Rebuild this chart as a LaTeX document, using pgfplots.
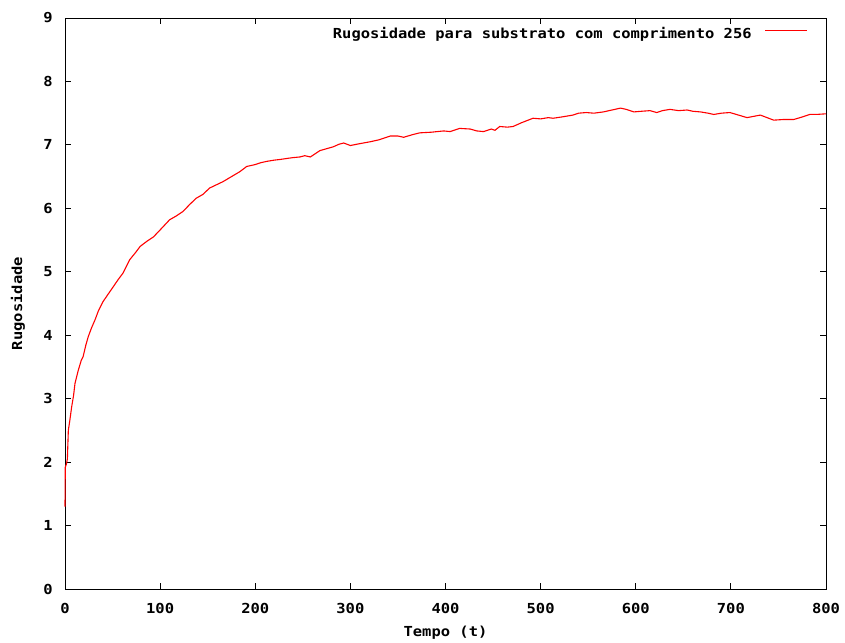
\documentclass[border=0pt]{standalone}
\usepackage{fontspec}
\setmainfont{DejaVu Sans Mono}[FakeStretch=1.12]
\usepackage{pgfplots}
\pgfplotsset{compat=1.18}

\newcommand{\gpfont}{\fontsize{13.8}{16}\selectfont\bfseries}

\begin{document}
\begin{tikzpicture}
\path (0pt,0pt) rectangle (845pt,640pt);
\begin{axis}[
  at={(65pt,51pt)}, anchor=south west,
  width=761pt, height=571pt, scale only axis,
  set layers, clip=false,
  xmin=0, xmax=800, ymin=0, ymax=9,
  xtick={0,100,...,800}, ytick={0,1,...,9},
  tick align=inside, major tick length=6pt,
  axis line style={line width=1pt},
  tick style={line width=1pt, black},
  /pgf/number format/assume math mode=true,
  tick label style={font=\gpfont, inner sep=0pt},
  xticklabel style={anchor=north, yshift=-14pt},
  yticklabel style={anchor=east, xshift=-12pt},
  xlabel={Tempo (t)}, ylabel={Rugosidade},
  label style={font=\gpfont},
  xlabel style={at={(axis description cs:0.5,-0.0770)}, anchor=center},
  ylabel style={at={(axis description cs:-0.0618,0.5)}, anchor=center},
  legend style={draw=none, fill=none, inner sep=0pt, font=\gpfont,
    at={(axis description cs:0.9763,0.9842)}, anchor=north east,
    nodes={inner sep=0pt}, column sep=13pt},
  legend plot pos=right,
  legend cell align=right,
  legend image code/.code={\draw[#1] (0pt,3.5pt) -- (42pt,3.5pt);},
]
\addplot[red, line width=1.1pt, on layer=axis foreground] coordinates {
(0,1.30)(0.3,1.92)(1.5,1.97)(2.5,2.05)(3.5,2.5)(5,2.65)(7,2.87)(9,3.05)
(10.5,3.24)(14,3.45)(17,3.60)(19,3.66)(22,3.85)(24.5,3.98)(28,4.12)
(31.5,4.24)(35,4.38)(40,4.53)(45,4.64)(51,4.77)(56,4.88)(61,4.98)
(65,5.10)(68,5.19)(74,5.30)(79,5.40)(86,5.48)(93,5.55)(100,5.66)
(105,5.74)(110,5.82)(117,5.88)(124,5.95)(131,6.06)(138,6.16)(145,6.22)
(152,6.32)(159,6.37)(166,6.42)(175,6.50)(184,6.58)(191,6.66)(200,6.69)
(206,6.72)(212,6.74)(220,6.76)(226,6.77)(235,6.79)(240,6.80)(247,6.81)
(252,6.83)(258,6.81)(263,6.86)(268,6.91)(275,6.94)(282,6.97)(288,7.01)
(293,7.03)(300,6.99)(310,7.02)(321,7.05)(330,7.08)(342,7.14)(350,7.14)
(356,7.12)(365,7.16)(373,7.19)(385,7.20)(398,7.22)(405,7.21)(415,7.26)
(426,7.25)(433,7.22)(440,7.21)(448,7.25)(452,7.23)(457,7.29)(465,7.28)
(471,7.29)(480,7.35)(492,7.42)(500,7.41)(508,7.43)(513,7.42)(522,7.44)
(534,7.47)(540,7.50)(548,7.51)(556,7.50)(566,7.52)(575,7.55)(584,7.58)
(590,7.56)(598,7.52)(606,7.53)(615,7.54)(622,7.51)(628,7.54)(636,7.56)
(645,7.54)(654,7.55)(660,7.53)(668,7.52)(676,7.50)(682,7.48)(690,7.50)
(699,7.51)(708,7.47)(717,7.43)(724,7.45)(731,7.47)(738,7.43)(745,7.39)
(755,7.40)(766,7.40)(775,7.44)(783,7.48)(790,7.48)(800,7.49)
};
\addlegendentry{Rugosidade para substrato com comprimento 256}
\end{axis}
\end{tikzpicture}
\end{document}
